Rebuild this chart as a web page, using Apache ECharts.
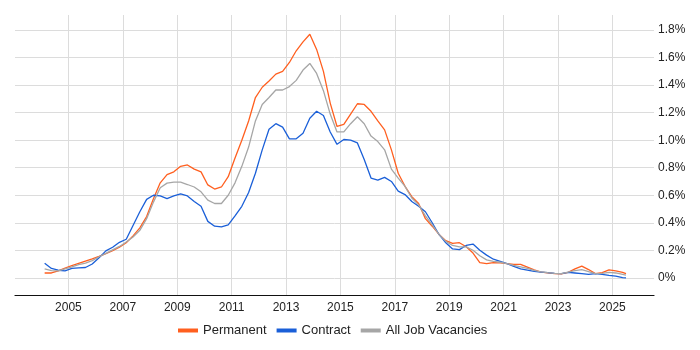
<!DOCTYPE html>
<html>
<head>
<meta charset="utf-8">
<script src="https://cdn.jsdelivr.net/npm/echarts@6/dist/echarts.min.js"></script>
<style>
  html, body { margin: 0; padding: 0; background: #fff; }
  #chart { width: 700px; height: 350px; }
</style>
</head>
<body>
<div id="chart"></div>
<script>
// decimal years, one point per quarter
var years = [
  2004.125, 2004.375, 2004.625, 2004.875,
  2005.125, 2005.375, 2005.625, 2005.875,
  2006.125, 2006.375, 2006.625, 2006.875,
  2007.125, 2007.375, 2007.625, 2007.875,
  2008.125, 2008.375, 2008.625, 2008.875,
  2009.125, 2009.375, 2009.625, 2009.875,
  2010.125, 2010.375, 2010.625, 2010.875,
  2011.125, 2011.375, 2011.625, 2011.875,
  2012.125, 2012.375, 2012.625, 2012.875,
  2013.125, 2013.375, 2013.625, 2013.875,
  2014.125, 2014.375, 2014.625, 2014.875,
  2015.125, 2015.375, 2015.625, 2015.875,
  2016.125, 2016.375, 2016.625, 2016.875,
  2017.125, 2017.375, 2017.625, 2017.875,
  2018.125, 2018.375, 2018.625, 2018.875,
  2019.125, 2019.375, 2019.625, 2019.875,
  2020.125, 2020.375, 2020.625, 2020.875,
  2021.125, 2021.375, 2021.625, 2021.875,
  2022.125, 2022.375, 2022.625, 2022.875,
  2023.125, 2023.375, 2023.625, 2023.875,
  2024.125, 2024.375, 2024.625, 2024.875,
  2025.125, 2025.375, 2025.5
];

var permanent = [
  0.035, 0.035, 0.05, 0.07,
  0.088, 0.105, 0.122, 0.138,
  0.155, 0.175, 0.198, 0.222,
  0.255, 0.305, 0.363, 0.445,
  0.575, 0.69, 0.75, 0.77,
  0.81, 0.82, 0.79, 0.77,
  0.675, 0.645, 0.66, 0.735,
  0.87, 1.0, 1.14, 1.31,
  1.385, 1.43, 1.48, 1.5,
  1.565, 1.65, 1.715, 1.77,
  1.66, 1.50, 1.27, 1.10,
  1.115, 1.19, 1.265, 1.26,
  1.21, 1.14, 1.075, 0.93,
  0.76, 0.665, 0.59, 0.54,
  0.43, 0.375, 0.315, 0.27,
  0.25, 0.255, 0.226, 0.18,
  0.11, 0.103, 0.11, 0.108,
  0.103, 0.097, 0.098, 0.078,
  0.058, 0.042, 0.036, 0.03,
  0.028, 0.04, 0.065, 0.085,
  0.06, 0.03, 0.037, 0.058,
  0.05, 0.04, 0.03
];

var contract = [
  0.105, 0.068, 0.055, 0.05,
  0.068, 0.072, 0.075, 0.1,
  0.145, 0.196, 0.222, 0.258,
  0.28, 0.38, 0.48, 0.57,
  0.6, 0.595, 0.575, 0.595,
  0.61, 0.595, 0.555, 0.52,
  0.41, 0.375, 0.37, 0.385,
  0.45, 0.52, 0.62, 0.76,
  0.93, 1.08, 1.12, 1.095,
  1.01, 1.01, 1.05, 1.16,
  1.21, 1.18, 1.06, 0.97,
  1.005, 1.0, 0.98, 0.86,
  0.725, 0.71, 0.73, 0.70,
  0.63, 0.605, 0.555, 0.52,
  0.48, 0.40, 0.315, 0.255,
  0.21, 0.205, 0.235, 0.245,
  0.2, 0.165, 0.135, 0.12,
  0.103, 0.083, 0.065, 0.056,
  0.046, 0.042, 0.037, 0.032,
  0.03, 0.04, 0.035, 0.03,
  0.025, 0.03, 0.025, 0.018,
  0.012, 0.002, 0.0
];

var allJobs = [
  0.065, 0.052, 0.05, 0.065,
  0.08, 0.096, 0.107, 0.125,
  0.153, 0.178, 0.203, 0.228,
  0.26, 0.297, 0.345, 0.43,
  0.55, 0.655, 0.688, 0.695,
  0.695, 0.678, 0.66, 0.625,
  0.565, 0.54, 0.54, 0.6,
  0.69, 0.81, 0.95, 1.14,
  1.26, 1.31, 1.365, 1.365,
  1.39, 1.435, 1.51, 1.558,
  1.485, 1.36, 1.19, 1.06,
  1.06, 1.12, 1.17, 1.12,
  1.03, 0.99, 0.93, 0.79,
  0.725, 0.665, 0.58, 0.53,
  0.45, 0.385, 0.315, 0.265,
  0.235, 0.225, 0.225, 0.2,
  0.16, 0.13, 0.12, 0.113,
  0.103, 0.09, 0.08, 0.068,
  0.054, 0.043, 0.037, 0.032,
  0.03, 0.042, 0.052, 0.06,
  0.045, 0.03, 0.032, 0.04,
  0.035, 0.025, 0.02
];

var xTicks = [2005, 2007, 2009, 2011, 2013, 2015, 2017, 2019, 2021, 2023, 2025];
var yTicks = [0, 0.2, 0.4, 0.6, 0.8, 1.0, 1.2, 1.4, 1.6, 1.8];

function pairs (vals) {
  var out = [];
  for (var i = 0; i < vals.length; i++) {
    out.push([years[i], vals[i]]);
  }
  return out;
}

var font = 'Arial, "Liberation Sans", sans-serif';
var chart = echarts.init(document.getElementById('chart'));

chart.setOption({
  animation: false,
  textStyle: { fontFamily: font },
  grid: {
    left: 15,
    right: 46,
    top: 15,
    bottom: 55,
    containLabel: false,
    outerBoundsMode: 'none'
  },
  legend: {
    bottom: 8,
    left: 173,
    icon: 'rect',
    itemWidth: 20,
    itemHeight: 4,
    itemGap: 10,
    textStyle: { fontSize: 13, color: '#222', fontFamily: font },
    data: ['Permanent', 'Contract', 'All Job Vacancies']
  },
  xAxis: {
    type: 'value',
    min: 2003.035,
    max: 2026.53,
    axisLine: { show: true, onZero: false, lineStyle: { color: '#111', width: 1.2 } },
    axisTick: { show: false, customValues: xTicks },
    axisLabel: {
      customValues: xTicks,
      margin: 7,
      fontSize: 12,
      color: '#222',
      fontFamily: font,
      formatter: function (v) { return String(v) }
    },
    splitLine: { show: true, lineStyle: { color: '#dcdcdc', width: 1 } }
  },
  yAxis: {
    type: 'value',
    position: 'right',
    min: -0.125,
    max: 1.91,
    axisLine: { show: false },
    axisTick: { show: false, customValues: yTicks },
    axisLabel: {
      customValues: yTicks,
      margin: 4,
      fontSize: 12,
      color: '#222',
      fontFamily: font,
      formatter: function (v) { return v === 0 ? '0%' : v.toFixed(1) + '%' }
    },
    splitLine: { show: true, lineStyle: { color: '#dcdcdc', width: 1 } }
  },
  series: [
    {
      name: 'Permanent',
      type: 'line',
      data: pairs(permanent),
      showSymbol: false,
      itemStyle: { color: '#FF5F1F' },
      lineStyle: { color: '#FF5F1F', width: 1.3 }
    },
    {
      name: 'Contract',
      type: 'line',
      data: pairs(contract),
      showSymbol: false,
      itemStyle: { color: '#1A5FD8' },
      lineStyle: { color: '#1A5FD8', width: 1.3 }
    },
    {
      name: 'All Job Vacancies',
      type: 'line',
      data: pairs(allJobs),
      showSymbol: false,
      itemStyle: { color: '#A6A6A6' },
      lineStyle: { color: '#A6A6A6', width: 1.3 }
    }
  ]
});
</script>
</body>
</html>
